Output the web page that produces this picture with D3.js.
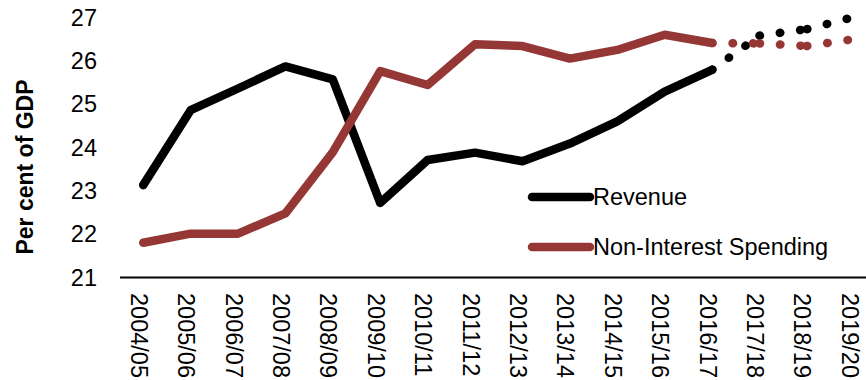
<!DOCTYPE html>
<html>
<head>
<meta charset="utf-8">
<script src="https://cdn.jsdelivr.net/npm/d3@7"></script>
<style>
  html, body { margin: 0; padding: 0; background: #fff; }
  svg { display: block; font-family: "Liberation Sans", Arial, sans-serif; }
</style>
</head>
<body>
<svg id="chart" width="866" height="380"></svg>
<script>
// Fiscal years
const categories = ["2004/05", "2005/06", "2006/07", "2007/08", "2008/09", "2009/10", "2010/11", "2011/12",
  "2012/13", "2013/14", "2014/15", "2015/16", "2016/17", "2017/18", "2018/19", "2019/20"];

// Per cent of GDP
const revenue  = [23.12, 24.85, 25.35, 25.86, 25.56, 22.71, 23.70, 23.87, 23.67, 24.08, 24.59, 25.28, 25.78, 26.57, 26.72, 27.0];
const spending = [21.79, 22.00, 22.00, 22.47, 23.88, 25.75, 25.43, 26.37, 26.33, 26.04, 26.24, 26.59, 26.40, 26.39, 26.33, 26.49];

// Index of the last actual year; later years are projections
const lastActual = 12;

const yTicks = [21, 22, 23, 24, 25, 26, 27];

const seriesNames = ["Revenue", "Non-Interest Spending"];
const seriesColors = ["#000000", "#953735"];

const svg = d3.select("#chart");
const fontSize = 23.5;

const x = d3.scaleBand().domain(categories).range([119.5, 878]).paddingInner(0).paddingOuter(0);
const y = d3.scaleLinear().domain([21, 27]).range([277, 17]);
const cx = d => x(d) + x.bandwidth() / 2;

// Y axis labels (no axis line)
const yAxis = svg.append("g")
  .attr("transform", "translate(97,0)")
  .call(d3.axisLeft(y).tickValues(yTicks).tickFormat(d3.format("d")).tickSize(0).tickPadding(0));
yAxis.select(".domain").remove();
yAxis.selectAll("text")
  .attr("font-family", "Liberation Sans, Arial, sans-serif")
  .attr("font-size", fontSize)
  .attr("fill", "#000")
  .attr("dy", "0.35em");

// Y axis title
svg.append("text")
  .attr("transform", "translate(33,167) rotate(-90)")
  .attr("text-anchor", "middle")
  .attr("font-size", 23)
  .attr("font-weight", "bold")
  .attr("fill", "#000")
  .text("Per cent of GDP");

// X axis
const xAxis = svg.append("g")
  .attr("transform", `translate(0,${y(21)})`)
  .call(d3.axisBottom(x).tickSize(0).tickSizeOuter(0));
xAxis.select(".domain").attr("stroke", "#000").attr("stroke-width", 2);
xAxis.selectAll("text")
  .attr("font-family", "Liberation Sans, Arial, sans-serif")
  .attr("font-size", fontSize)
  .attr("fill", "#000")
  .attr("text-anchor", "start")
  .attr("transform", "rotate(90)")
  .attr("x", 16)
  .attr("y", 0)
  .attr("dy", "0.53em");

const line = d3.line().x(d => cx(d.c)).y(d => y(d.v));
const lineWidth = 8.5;

[revenue, spending].forEach((vals, k) => {
  const pts = categories.map((c, i) => ({ c, v: vals[i] }));
  // projected segments, dotted, each segment restarting its dot pattern
  for (let i = lastActual; i < pts.length - 1; i++) {
    svg.append("path")
      .attr("d", line([pts[i], pts[i + 1]]))
      .attr("fill", "none")
      .attr("stroke", seriesColors[k])
      .attr("stroke-width", lineWidth)
      .attr("stroke-linecap", "round")
      .attr("stroke-dasharray", "0.5 20");
  }
  // actual years, solid
  svg.append("path")
    .attr("d", line(pts.slice(0, lastActual + 1)))
    .attr("fill", "none")
    .attr("stroke", seriesColors[k])
    .attr("stroke-width", lineWidth)
    .attr("stroke-linecap", "round")
    .attr("stroke-linejoin", "round");
});

// Legend
const legend = svg.append("g");
seriesNames.forEach((name, k) => {
  const ly = 197 + k * 50;
  legend.append("line")
    .attr("x1", 532).attr("x2", 590)
    .attr("y1", ly).attr("y2", ly)
    .attr("stroke", seriesColors[k])
    .attr("stroke-width", lineWidth)
    .attr("stroke-linecap", "round");
  legend.append("text")
    .attr("x", 593).attr("y", ly)
    .attr("dy", "0.35em")
    .attr("font-size", fontSize)
    .attr("fill", "#000")
    .text(name);
});
</script>
</body>
</html>
